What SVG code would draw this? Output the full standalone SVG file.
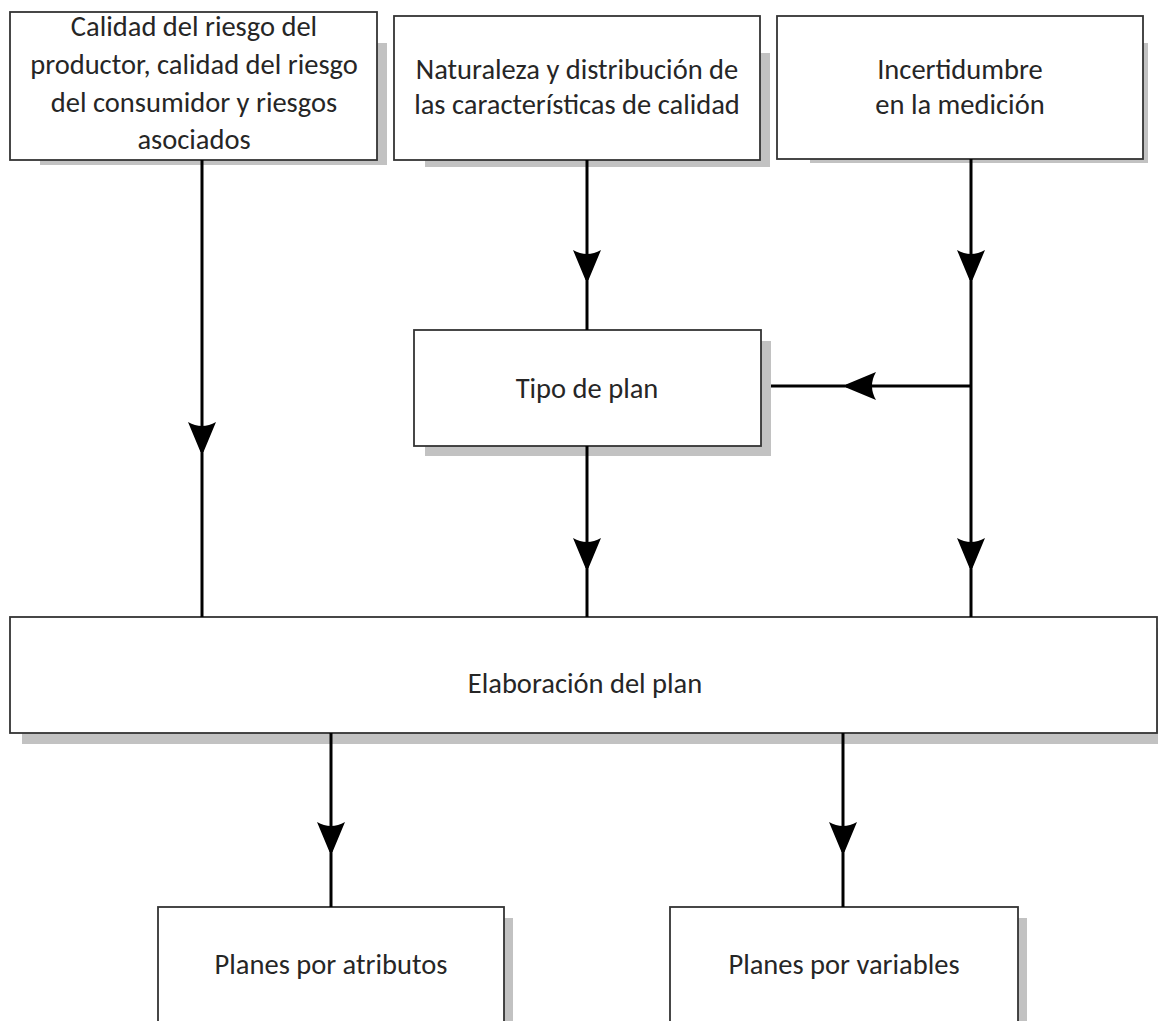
<svg xmlns="http://www.w3.org/2000/svg" xmlns:xlink="http://www.w3.org/1999/xlink" width="1158" height="1021" viewBox="0 0 1158 1021">
<style>
.box{fill:#ffffff;stroke:#333333;stroke-width:1.8}
.sh{fill:#c2c2c2}
.t{font-family:Carlito,Calibri,Lato,"Open Sans",sans-serif;font-size:28.5px;fill:#262626;text-anchor:middle}
.ln{stroke:#000;stroke-width:3;fill:none}
.ah{fill:#000}
</style>
<defs>
<path id="ah" d="M0,-1.5 L-30,-14 Q-22,0 -30,14 L0,1.5 Z"/>
</defs>
<rect width="1158" height="1021" fill="#ffffff"/>
<g id="n1">
<rect class="sh" x="40" y="43" width="347" height="122"/>
<rect class="box" x="10" y="12" width="367" height="148"/>
<text class="t" x="194" y="36">Calidad del riesgo del</text>
<text class="t" x="194" y="74">productor, calidad del riesgo</text>
<text class="t" x="194" y="112">del consumidor y riesgos</text>
<text class="t" x="194" y="149">asociados</text>
</g>
<g id="n2">
<rect class="sh" x="425" y="53" width="345" height="114"/>
<rect class="box" x="394" y="16" width="366" height="144"/>
<text class="t" x="577" y="79">Naturaleza y distribución de</text>
<text class="t" x="577" y="114">las características de calidad</text>
</g>
<g id="n3">
<rect class="sh" x="810" y="43" width="338" height="120"/>
<rect class="box" x="777" y="16" width="366" height="143"/>
<text class="t" x="960" y="79">Incertidumbre</text>
<text class="t" x="960" y="114">en la medición</text>
</g>
<g id="n4">
<rect class="sh" x="425" y="341" width="346" height="115"/>
<rect class="box" x="414" y="330" width="347" height="116"/>
<text class="t" x="587" y="398">Tipo de plan</text>
</g>
<g id="n5">
<rect class="sh" x="22" y="628" width="1140" height="116"/>
<rect class="box" x="10" y="617" width="1147" height="116"/>
<text class="t" x="585" y="693">Elaboración del plan</text>
</g>
<g id="n6">
<rect class="sh" x="168" y="918" width="345" height="110"/>
<rect class="box" x="158" y="907" width="346" height="120"/>
<text class="t" x="331" y="974">Planes por atributos</text>
</g>
<g id="n7">
<rect class="sh" x="680" y="918" width="347" height="110"/>
<rect class="box" x="670" y="907" width="348" height="120"/>
<text class="t" x="844" y="974">Planes por variables</text>
</g>
<g id="connectors">
<path class="ln" d="M202,160 V617"/>
<path class="ln" d="M587,160 V330"/>
<path class="ln" d="M587,446 V617"/>
<path class="ln" d="M971,159 V617"/>
<path class="ln" d="M971,386 H771"/>
<path class="ln" d="M331,733 V907"/>
<path class="ln" d="M843,733 V907"/>
<use class="ah" xlink:href="#ah" transform="translate(202,452) rotate(90)"/>
<use class="ah" xlink:href="#ah" transform="translate(587,280) rotate(90)"/>
<use class="ah" xlink:href="#ah" transform="translate(587,568) rotate(90)"/>
<use class="ah" xlink:href="#ah" transform="translate(971,280) rotate(90)"/>
<use class="ah" xlink:href="#ah" transform="translate(971,568) rotate(90)"/>
<use class="ah" xlink:href="#ah" transform="translate(846,386) rotate(180)"/>
<use class="ah" xlink:href="#ah" transform="translate(331,852) rotate(90)"/>
<use class="ah" xlink:href="#ah" transform="translate(843,852) rotate(90)"/>
</g>
</svg>
